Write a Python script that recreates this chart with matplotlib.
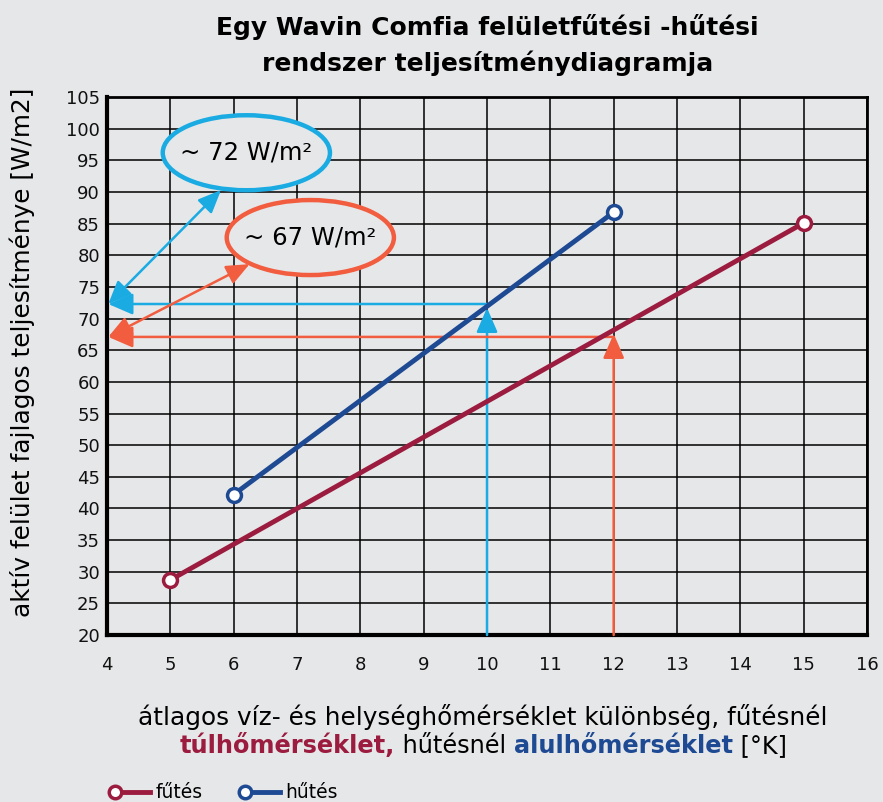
import matplotlib
matplotlib.use("Agg")
import matplotlib.pyplot as plt
from matplotlib.patches import Ellipse
from matplotlib.lines import Line2D

# Adatok
futes_x = [5, 15]
futes_y = [28.7, 85.1]
hutes_x = [6, 12]
hutes_y = [42.2, 86.8]

hutes_pont = (10, 72.3)    # leolvasás hűtésnél
futes_pont = (12, 67.1)    # leolvasás fűtésnél
hutes_cimke = "~ 72 W/m²"
futes_cimke = "~ 67 W/m²"

x_ticks = list(range(4, 17))
y_ticks = list(range(20, 106, 5))

# Színek
BG = "#e6e7e9"
C_FUTES = "#9b1c3f"
C_HUTES = "#1e4a93"
C_KEK = "#1aabe3"
C_NARANCS = "#f15d3e"

plt.rcParams["font.family"] = ["DejaVu Sans"]

fig = plt.figure(figsize=(8.83, 8.02), dpi=100, facecolor=BG)
ax = fig.add_axes([0.1212, 0.2082, 0.8607, 0.6708])
ax.set_facecolor(BG)

ax.set_xlim(4, 16)
ax.set_ylim(20, 105)
ax.set_xticks(x_ticks)
ax.set_yticks(y_ticks)
ax.tick_params(length=0, labelsize=13, colors="#111111")
ax.tick_params(axis="x", pad=15)
ax.tick_params(axis="y", pad=5)
ax.grid(True, color="black", linewidth=1.1)
ax.set_axisbelow(True)
for s in ["left", "bottom"]:
    ax.spines[s].set_linewidth(3)
for s in ["top", "right"]:
    ax.spines[s].set_linewidth(2)

nyil = "-|>,head_length=1.5,head_width=0.65"
ketnyil = "<|-|>,head_length=1.4,head_width=0.6"

# Segédvonalak (leolvasás)
x0 = 4.02
ax.annotate("", xy=(hutes_pont[0], hutes_pont[1] - 0.6), xytext=(hutes_pont[0], 20),
            arrowprops=dict(arrowstyle=nyil, color=C_KEK, lw=1.8, shrinkA=0, shrinkB=0),
            zorder=3)
ax.annotate("", xy=(x0, hutes_pont[1]), xytext=(hutes_pont[0], hutes_pont[1]),
            arrowprops=dict(arrowstyle=nyil, color=C_KEK, lw=1.8, shrinkA=0, shrinkB=0),
            zorder=3)
ax.annotate("", xy=(futes_pont[0], futes_pont[1] + 0.5), xytext=(futes_pont[0], 20),
            arrowprops=dict(arrowstyle=nyil, color=C_NARANCS, lw=1.8, shrinkA=0, shrinkB=0),
            zorder=3)
ax.annotate("", xy=(x0, futes_pont[1]), xytext=(futes_pont[0], futes_pont[1]),
            arrowprops=dict(arrowstyle=nyil, color=C_NARANCS, lw=1.8, shrinkA=0, shrinkB=0),
            zorder=3)

# Kétirányú nyilak a címkékhez
ax.annotate("", xy=(5.8, 90.3), xytext=(x0, hutes_pont[1]),
            arrowprops=dict(arrowstyle=ketnyil, color=C_KEK, lw=1.8, shrinkA=0, shrinkB=0),
            zorder=3)
ax.annotate("", xy=(6.25, 78.6), xytext=(x0, futes_pont[1]),
            arrowprops=dict(arrowstyle=ketnyil, color=C_NARANCS, lw=1.8, shrinkA=0, shrinkB=0),
            zorder=3)

# Ellipszisek
ax.add_patch(Ellipse((6.2, 96.2), 2.64, 11.85, facecolor=BG, edgecolor=C_KEK, lw=3.2, zorder=4))
ax.text(6.2, 96.2, hutes_cimke, ha="center", va="center", fontsize=17.5, zorder=5)
ax.add_patch(Ellipse((7.21, 82.8), 2.64, 11.85, facecolor=BG, edgecolor=C_NARANCS, lw=3.2, zorder=4))
ax.text(7.21, 82.8, futes_cimke, ha="center", va="center", fontsize=17.5, zorder=5)

# Görbék
ax.plot(futes_x, futes_y, color=C_FUTES, lw=3.5, marker="o", markersize=10,
        markerfacecolor="white", markeredgewidth=2.5, zorder=6, clip_on=False)
ax.plot(hutes_x, hutes_y, color=C_HUTES, lw=3.5, marker="o", markersize=10,
        markerfacecolor="white", markeredgewidth=2.5, zorder=6, clip_on=False)

# Cím és tengelyfeliratok
fig.text(0.552, 0.966, "Egy Wavin Comfia felületfűtési -hűtési", ha="center", va="center",
         fontsize=18, fontweight="bold")
fig.text(0.552, 0.921, "rendszer teljesítménydiagramja", ha="center", va="center",
         fontsize=18, fontweight="bold")
fig.text(0.025, 0.561, "aktív felület fajlagos teljesítménye [W/m2]", rotation=90,
         ha="center", va="center", fontsize=17.8)
fig.text(0.547, 0.106, "átlagos víz- és helységhőmérséklet különbség, fűtésnél",
         ha="center", va="center", fontsize=17.8)

# Kétszínű második sor
darabok = [("túlhőmérséklet,", C_FUTES, "bold"), (" hűtésnél ", "black", "normal"),
           ("alulhőmérséklet", C_HUTES, "bold"), (" [°K]", "black", "normal")]
fig.canvas.draw()
r = fig.canvas.get_renderer()
szov = []
for t, c, w in darabok:
    tx = fig.text(0, 0.07, t, color=c, fontweight=w, fontsize=17.3, va="center", ha="left")
    szov.append(tx)
szelesseg = [tx.get_window_extent(r).width for tx in szov]
W = fig.bbox.width
x = 0.547 * W - sum(szelesseg) / 2
for tx, sz in zip(szov, szelesseg):
    tx.set_x(x / W)
    x += sz

# Jelmagyarázat
for xs, c, lab in [(0.130, C_FUTES, "fűtés"), (0.277, C_HUTES, "hűtés")]:
    fig.add_artist(Line2D([xs, xs + 0.04], [0.012, 0.012], color=c, lw=3.5,
                          transform=fig.transFigure))
    fig.add_artist(Line2D([xs], [0.012], color=c, marker="o", markersize=9,
                          markerfacecolor="white", markeredgewidth=2.5, transform=fig.transFigure))
    fig.text(xs + 0.046, 0.012, lab, ha="left", va="center", fontsize=13.5)

fig.savefig("out.png", dpi=100, facecolor=BG)
